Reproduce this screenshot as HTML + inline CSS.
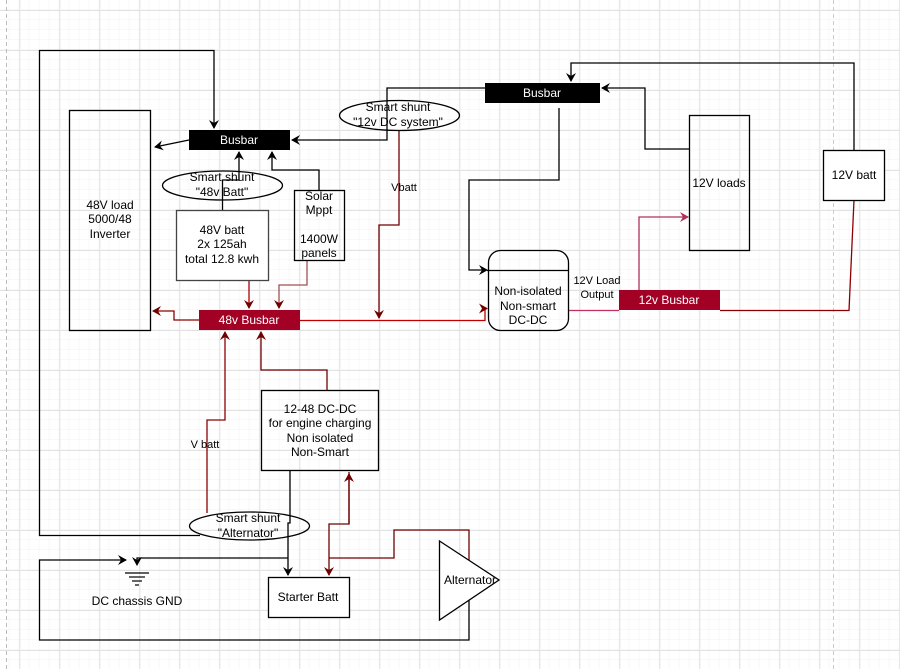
<!DOCTYPE html>
<html><head><meta charset="utf-8"><style>
html,body{margin:0;padding:0;background:#fff;}
svg{display:block;font-family:"Liberation Sans",Arial,sans-serif;}
</style></head><body>
<svg width="900" height="669" viewBox="0 0 900 669" xmlns="http://www.w3.org/2000/svg">
<defs>
<pattern id="minor" x="9.3" y="0" width="10" height="10" patternUnits="userSpaceOnUse"><path d="M10 0V10M0 10H10" fill="none" stroke="#f2f2f2" stroke-width="1"/></pattern>
<pattern id="major" x="19.3" y="10" width="40" height="40" patternUnits="userSpaceOnUse"><path d="M0.5 0V40M0 0.5H40" fill="none" stroke="#e2e2e2" stroke-width="1"/></pattern>
<marker id="ab" markerWidth="10" markerHeight="10" refX="8" refY="5" orient="auto" markerUnits="userSpaceOnUse"><path d="M0,0 L9,5 L0,10 L3,5 z" fill="#000"/></marker>
<marker id="ar" markerWidth="10" markerHeight="10" refX="8" refY="5" orient="auto" markerUnits="userSpaceOnUse"><path d="M0,0 L9,5 L0,10 L3,5 z" fill="#6f0000"/></marker>
<marker id="ap" markerWidth="10" markerHeight="10" refX="8" refY="5" orient="auto" markerUnits="userSpaceOnUse"><path d="M0,0 L9,5 L0,10 L3,5 z" fill="#b0305a"/></marker>
</defs>
<rect width="900" height="669" fill="url(#minor)"/>
<rect width="900" height="669" fill="url(#major)"/>
<line x1="6.5" y1="0" x2="6.5" y2="669" stroke="#bbb" stroke-dasharray="4,3"/>
<line x1="833.5" y1="0" x2="833.5" y2="669" stroke="#ccc" stroke-dasharray="4,3"/>

<g fill="none" stroke-width="1.3">
<path d="M200,535.5 H39.5 V50.5 H214 V128" stroke="#000" marker-end="url(#ab)"/>
<path d="M189,140 L155,147" stroke="#000" marker-end="url(#ab)"/>
<path d="M222.5,210 V180 H239 V152" stroke="#000" marker-end="url(#ab)"/>
<path d="M319,190 V170 H272 V152" stroke="#000" marker-end="url(#ab)"/>
<path d="M485,88 H387 V140 H292" stroke="#000" marker-end="url(#ab)"/>
<path d="M854,150 V63 H571 V81" stroke="#000" marker-end="url(#ab)"/>
<path d="M690,149 H645 V88 H602" stroke="#000" marker-end="url(#ab)"/>
<path d="M559,108 V180 H469 V270 H487" stroke="#000" marker-end="url(#ab)"/>
<path d="M487,270.5 H568" stroke="#000"/>
<path d="M290,470 V523 H288 V575" stroke="#000" marker-end="url(#ab)"/>
<path d="M288,558 H137 V565" stroke="#000" marker-end="url(#ab)"/>
<path d="M469,600 V640 H39.5 V560 H126" stroke="#000" marker-end="url(#ab)"/>
<path d="M399,130 V225 H379 V318" stroke="#6f0000" marker-end="url(#ar)"/>
<path d="M249,280 V308" stroke="#b00000" marker-end="url(#ar)"/>
<path d="M307,260 V285 H279 V308" stroke="#a05050" marker-end="url(#ar)"/>
<path d="M199,320 H174 V311 H153" stroke="#8b0000" marker-end="url(#ar)"/>
<path d="M300,320.5 H485 V308.5 H487" stroke="#c00000" marker-end="url(#ar)"/>
<path d="M207,513 V420 H225 V332" stroke="#8b0000" marker-end="url(#ar)"/>
<path d="M327,391 V370 H261 V332" stroke="#6f0000" marker-end="url(#ar)"/>
<path d="M349,472 V524 H329 V575" stroke="#6f0000" marker-end="url(#ar)"/>
<path d="M349,524 V474" stroke="#6f0000" marker-end="url(#ar)"/>
<path d="M329,558 H394 V530 H469 V565" stroke="#6f0000"/>
<path d="M568,310.5 H619" stroke="#c03060"/>
<path d="M639,290 V217 H688" stroke="#b0305a" marker-end="url(#ap)"/>
<path d="M720,310.5 H849 L854,200" stroke="#8b0000"/>
</g>

<g stroke="#000" stroke-width="1.3" fill="#fff">
<rect x="69.5" y="110.5" width="81" height="220" fill="none"/>
<rect x="176.5" y="210.5" width="92" height="70" stroke="#444"/>
<rect x="294.5" y="190.5" width="50" height="70" fill="none"/>
<rect x="689.5" y="115.5" width="60" height="135" fill="none"/>
<rect x="823.5" y="150.5" width="61" height="50"/>
<rect x="488.5" y="250.5" width="80" height="80" rx="12" fill="none"/>
<rect x="261.5" y="390.5" width="117" height="80" fill="none"/>
<rect x="268.5" y="577.5" width="81" height="40"/>
<ellipse cx="222.5" cy="185.5" rx="60" ry="14.5" fill="none"/>
<ellipse cx="399.5" cy="115.5" rx="60" ry="15" fill="none"/>
<ellipse cx="249.5" cy="526" rx="60" ry="14" fill="none"/>
<path d="M439.5,541 L499,580 L439.5,620 Z"/>
</g>
<rect x="189" y="130" width="101" height="20" fill="#000"/>
<rect x="485" y="83" width="115" height="20" fill="#000"/>
<rect x="199" y="310" width="101" height="20" fill="#a20025"/>
<rect x="619" y="290" width="101" height="20" fill="#a20025"/>
<g stroke="#000" stroke-width="1.2">
<line x1="125" y1="573" x2="149" y2="573"/>
<line x1="129" y1="577" x2="145" y2="577"/>
<line x1="132" y1="581" x2="142" y2="581"/>
<line x1="135" y1="585" x2="139" y2="585"/>
</g>

<g font-size="12" fill="#000" text-anchor="middle">
<text x="239" y="144" fill="#fff">Busbar</text>
<text x="542" y="97" fill="#fff">Busbar</text>
<text x="249" y="324" fill="#fff">48v Busbar</text>
<text x="669" y="304" fill="#fff">12v Busbar</text>
<text x="110" y="209">48V load</text>
<text x="110" y="223">5000/48</text>
<text x="110" y="238">Inverter</text>
<text x="222" y="181">Smart shunt</text>
<text x="222" y="196">"48v Batt"</text>
<text x="222" y="234">48V batt</text>
<text x="222" y="248">2x 125ah</text>
<text x="222" y="263">total 12.8 kwh</text>
<text x="319" y="200">Solar</text>
<text x="319" y="214">Mppt</text>
<text x="319" y="243">1400W</text>
<text x="319" y="257">panels</text>
<text x="398" y="111">Smart shunt</text>
<text x="398" y="126">"12v DC system"</text>
<text x="404" y="191" font-size="11">Vbatt</text>
<text x="719" y="187">12V loads</text>
<text x="854" y="179">12V batt</text>
<text x="528" y="295">Non-isolated</text>
<text x="528" y="310">Non-smart</text>
<text x="528" y="324">DC-DC</text>
<text x="597" y="284" font-size="11">12V  Load</text>
<text x="597" y="298" font-size="11">Output</text>
<text x="205" y="448" font-size="11">V batt</text>
<text x="320" y="413">12-48 DC-DC</text>
<text x="320" y="427">for engine charging</text>
<text x="320" y="442">Non isolated</text>
<text x="320" y="456">Non-Smart</text>
<text x="248" y="522">Smart shunt</text>
<text x="248" y="537">"Alternator"</text>
<text x="308" y="601">Starter Batt</text>
<text x="137" y="605">DC chassis GND</text>
<text x="470" y="584">Alternator</text>
</g>
</svg>
</body></html>
